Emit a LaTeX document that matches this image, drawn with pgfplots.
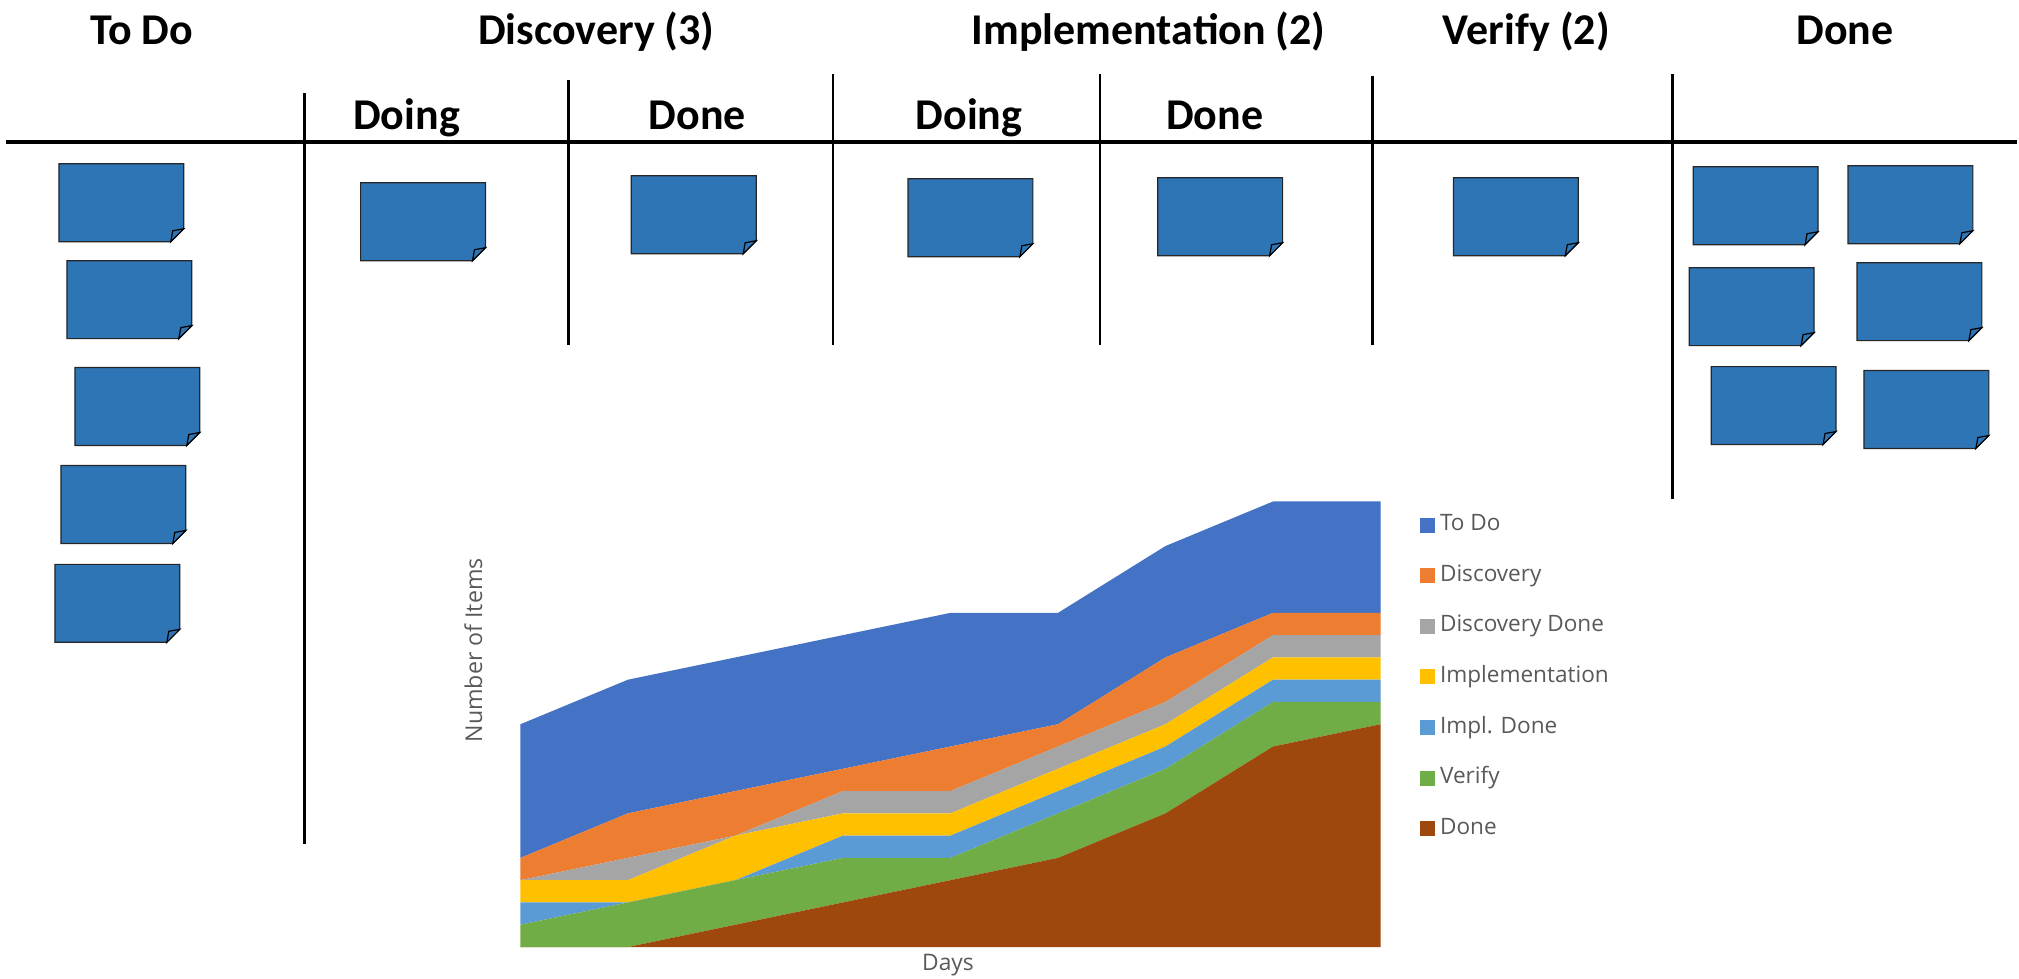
\documentclass[border=0pt]{standalone}
\usepackage{fontspec}
\setmainfont{Carlito}
\newfontfamily\legfont{Open Sans}
\usepackage{pgfplots}
\pgfplotsset{compat=1.18}
\definecolor{notec}{HTML}{2E75B6}
\definecolor{ctodo}{HTML}{4472C4}
\definecolor{cdisc}{HTML}{ED7D31}
\definecolor{cdiscd}{HTML}{A5A5A5}
\definecolor{cimpl}{HTML}{FFC000}
\definecolor{cimpld}{HTML}{5B9BD5}
\definecolor{cver}{HTML}{70AD47}
\definecolor{cdone}{HTML}{9E480E}
\definecolor{txtgray}{HTML}{595959}
\newcommand\note[2]{%
 \filldraw[fill=notec, draw=black!85, line width=0.6bp] (#1,#2) -- (#1+125,#2) -- (#1+125,#2+65) -- (#1+112,#2+78) -- (#1,#2+78) -- cycle;
 \filldraw[fill=notec, draw=black, line width=0.6bp] (#1+125,#2+65) -- (#1+112,#2+78) -- (#1+114,#2+67) -- cycle;}
\begin{document}
\begin{tikzpicture}
\begin{scope}[x=0.5bp,y=-0.5bp,shift={(0bp,490bp)}]
\path (0,0) rectangle (2019,980);
% headers
\begin{scope}[every node/.style={anchor=base, font=\bfseries\fontsize{22bp}{26bp}\selectfont, inner sep=0pt}]
\node at (142,45) {To Do};
\node at (597,45) {Discovery (3)};
\node at (1150,45) {Implementation (2)};
\node at (1528,45) {Verify (2)};
\node at (1847,45) {Done};
\node at (407,130) {Doing};
\node at (698,130) {Done};
\node at (970,130) {Doing};
\node at (1216,130) {Done};
\end{scope}
% lines
\draw[line width=2.2bp] (6,142) -- (2019,142);
\draw[line width=1.3bp] (305,93) -- (305,845);
\draw[line width=1.3bp] (569,80) -- (569,345);
\draw[line width=1.3bp] (834,74) -- (834,345);
\draw[line width=1.3bp] (1101,74) -- (1101,345);
\draw[line width=1.3bp] (1374,76) -- (1374,345);
\draw[line width=1.3bp] (1674,74) -- (1674,500);
% notes
\note{59}{164}
\note{67}{261}
\note{75}{368}
\note{61}{466}
\note{55}{565}
\note{361}{183}
\note{632}{176}
\note{909}{179}
\note{1159}{178}
\note{1455}{178}
\note{1695}{167}
\note{1850}{166}
\note{1691}{268}
\note{1859}{263}
\note{1713}{367}
\note{1866}{371}
% axis labels
\node[inner sep=0pt, rotate=90, font=\legfont\fontsize{11.6bp}{13bp}\selectfont, text=txtgray] at (474,651) {Number of Items};
\node[inner sep=0pt, font=\legfont\fontsize{11.4bp}{13bp}\selectfont, text=txtgray] at (949,966) {Days};
\end{scope}
\begin{axis}[at={(260.5bp,16bp)}, anchor=south west, scale only axis,
  width=430.5bp, height=223bp, xmin=0, xmax=8, ymin=0, ymax=20,
  axis lines=none, ticks=none, stack plots=y,
  reverse legend, legend cell align=left,
  legend image code/.code={\fill[#1] (0bp,-3.75bp) rectangle (7.5bp,3.75bp);},
  legend style={at={(rel axis cs:1,1)}, anchor=north west, xshift=19.5bp, yshift=-6.5bp,
    draw=none, fill=none, inner sep=0pt, row sep=14.8bp,
    font=\legfont\fontsize{11.3bp}{13bp}\selectfont, text=txtgray,
    nodes={inner ysep=0pt, inner xsep=2.6bp, text height=8bp, text depth=2.5bp}}]
\addplot[fill=cdone, draw=none] coordinates {(0,0) (1,0) (2,1) (3,2) (4,3) (5,4) (6,6) (7,9) (8,10)} \closedcycle;
\addlegendentry{Done}
\addplot[fill=cver, draw=none] coordinates {(0,1) (1,2) (2,2) (3,2) (4,1) (5,2) (6,2) (7,2) (8,1)} \closedcycle;
\addlegendentry{Verify}
\addplot[fill=cimpld, draw=none] coordinates {(0,1) (1,0) (2,0) (3,1) (4,1) (5,1) (6,1) (7,1) (8,1)} \closedcycle;
\addlegendentry{Impl. Done}
\addplot[fill=cimpl, draw=none] coordinates {(0,1) (1,1) (2,2) (3,1) (4,1) (5,1) (6,1) (7,1) (8,1)} \closedcycle;
\addlegendentry{Implementation}
\addplot[fill=cdiscd, draw=none] coordinates {(0,0) (1,1) (2,0) (3,1) (4,1) (5,1) (6,1) (7,1) (8,1)} \closedcycle;
\addlegendentry{Discovery Done}
\addplot[fill=cdisc, draw=none] coordinates {(0,1) (1,2) (2,2) (3,1) (4,2) (5,1) (6,2) (7,1) (8,1)} \closedcycle;
\addlegendentry{Discovery}
\addplot[fill=ctodo, draw=none] coordinates {(0,6) (1,6) (2,6) (3,6) (4,6) (5,5) (6,5) (7,5) (8,5)} \closedcycle;
\addlegendentry{To Do}
\end{axis}
\end{tikzpicture}
\end{document}
